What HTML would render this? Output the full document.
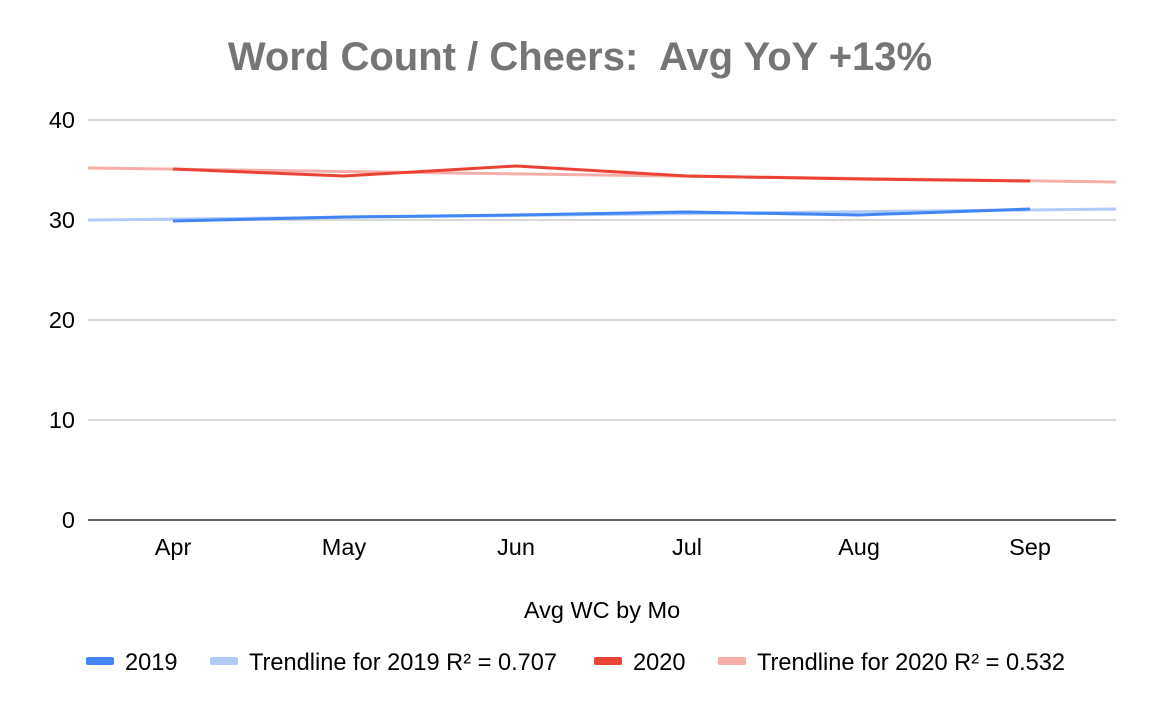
<!DOCTYPE html>
<html><head><meta charset="utf-8"><style>
body{margin:0;background:#fff;}
svg text{font-family:"Liberation Sans",Arial,sans-serif;white-space:pre;}
</style></head><body>
<svg width="1152" height="712" xmlns="http://www.w3.org/2000/svg" xml:space="preserve">
<rect width="1152" height="712" fill="#fff"/>
<text x="580" y="70" text-anchor="middle" font-size="40" font-weight="bold" fill="#757575">Word Count / Cheers:  Avg YoY +13%</text>
<g stroke="#cccccc" stroke-width="1.5">
<line x1="88" y1="120" x2="1116" y2="120"/>
<line x1="88" y1="220" x2="1116" y2="220"/>
<line x1="88" y1="320" x2="1116" y2="320"/>
<line x1="88" y1="420" x2="1116" y2="420"/>
</g>
<line x1="88" y1="520" x2="1116" y2="520" stroke="#333" stroke-width="1.5"/>
<g font-size="23.5" fill="#000" text-anchor="end">
<text x="75" y="128">40</text><text x="75" y="228">30</text><text x="75" y="328">20</text><text x="75" y="428">10</text><text x="75" y="528">0</text>
</g>
<g font-size="23.5" fill="#000" text-anchor="middle">
<text x="173" y="555">Apr</text><text x="344" y="555">May</text><text x="516" y="555">Jun</text><text x="687" y="555">Jul</text><text x="859" y="555">Aug</text><text x="1030" y="555">Sep</text>
<text x="602" y="618">Avg WC by Mo</text>
</g>
<line x1="88" y1="220" x2="1116" y2="209" stroke="#aecbfa" stroke-width="3"/>
<line x1="88" y1="168" x2="1116" y2="182" stroke="#f6aea9" stroke-width="3"/>
<polyline fill="none" stroke="#4285f4" stroke-width="3" points="173,221 344,217 516,215 687,212 859,215 1030,209"/>
<polyline fill="none" stroke="#ea4335" stroke-width="3" points="173,169 344,176 516,166 687,176 859,179 1030,181"/>
<g font-size="23.6" fill="#000">
<rect x="86" y="657" width="28" height="8" rx="2" fill="#4285f4"/><text x="125" y="670">2019</text>
<rect x="210" y="657" width="28" height="8" rx="2" fill="#aecbfa"/><text x="249" y="670">Trendline for 2019 R² = 0.707</text>
<rect x="594" y="657" width="28" height="8" rx="2" fill="#ea4335"/><text x="633" y="670">2020</text>
<rect x="718" y="657" width="28" height="8" rx="2" fill="#f6aea9"/><text x="757" y="670">Trendline for 2020 R² = 0.532</text>
</g>
</svg>
</body></html>
